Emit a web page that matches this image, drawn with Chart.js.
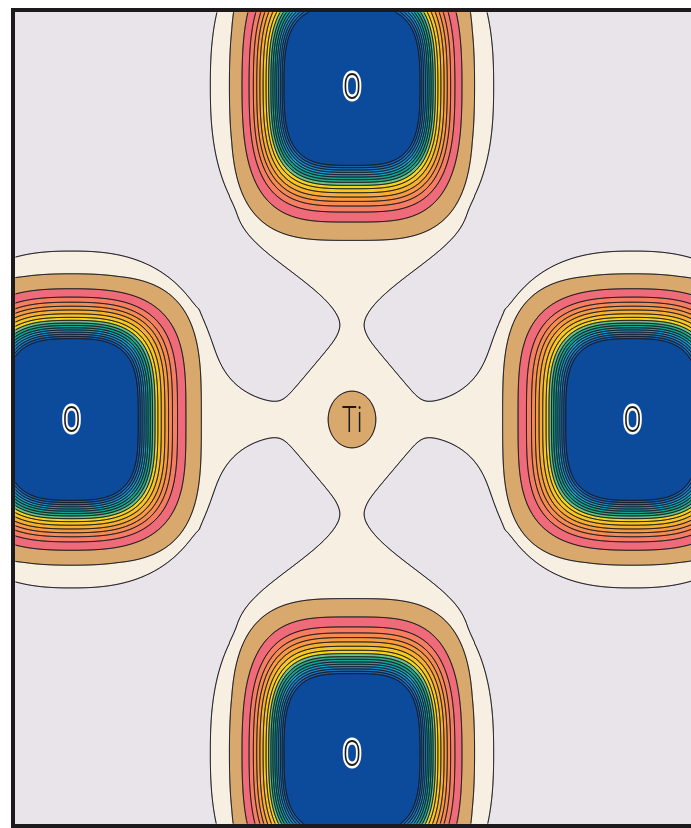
<!DOCTYPE html>
<html>
<head>
<meta charset="utf-8">
<script src="https://cdn.jsdelivr.net/npm/chart.js@4.4.1/dist/chart.umd.min.js"></script>
<style>
  html, body { margin: 0; padding: 0; background: #fff; overflow: hidden; width: 691px; height: 828px; }
  #wrap { position: absolute; left: 0; top: 0; width: 697px; height: 828px; }
  canvas { background: #fff; }
</style>
</head>
<body>
<div id="wrap"><canvas id="map"></canvas></div>
<script>
// Ti–O plane, coordinates in units of the Ti–O bond length (Ti at the origin)
const atomLabels = ['O', 'O', 'O', 'O', 'Ti'];
const atomX = [-1, 1, 0, 0, 0];
const atomY = [0, 0, 1, -1, 0];

// radius of each density contour around an O site, measured along the bond (outer -> inner)
const contourRadii = [0.463, 0.408, 0.378, 0.360, 0.346, 0.333, 0.320, 0.308, 0.298,
                      0.289, 0.281, 0.273, 0.266, 0.259, 0.252, 0.245, 0.238];
// fill colour of the band just inside each contour
const bandColors = ['#d9a86c', '#f06b79', '#f57d62', '#f68b52', '#f79a40', '#f8ae30',
                    '#f8c622', '#f5d51c', '#6cc08c', '#2aa886', '#15a091', '#14a0b0',
                    '#1a9cc9', '#1b88c8', '#1b72bd', '#185fae', '#0c4a9c'];
// lowest (bonding) level and the empty background
const envelopeColor = '#f6efe2';
const backgroundColor = '#e9e4ea';
// radius of the Ti core at the first contour level
const tiCoreRadius = 0.085;

// visible window of the plane
const xRange = [-1.2014, 1.2157];
const yRange = [-1.2129, 1.2219];

// ---- density model -------------------------------------------------------
const LAMBDA = 0.05;      // decay of the O core density
const CORE_P = 3.4;       // squareness of the O core contours
const tiIndex = atomLabels.indexOf('Ti');
const oIndices = atomLabels.map((l, i) => (l === 'O' ? i : -1)).filter(i => i >= 0);
const levelLog = contourRadii.map(r => -r / LAMBDA);
const tiSigma = tiCoreRadius / Math.sqrt(Math.log(2));
const tiAmp = 2 * Math.exp(levelLog[0]);

function smoothstep(e0, e1, v) {
  const t = Math.min(1, Math.max(0, (v - e0) / (e1 - e0)));
  return t * t * (3 - 2 * t);
}
// half-width of the bonding lobe reaching from an O towards Ti (a = distance from O along the bond)
const lobeWidth = {
  horizontal: a => 0.035 + 0.28 * Math.exp(-Math.max(0, a - 0.455) / 0.095),
  vertical:   a => 0.038 + 0.36 * (1 - smoothstep(0.38, 0.73, a))
};

function evalFields(x, y) {
  const tx = atomX[tiIndex], ty = atomY[tiIndex];
  let phi = 0, env = 0;
  for (const i of oIndices) {
    const ox = atomX[i], oy = atomY[i];
    let ux = tx - ox, uy = ty - oy;
    const L = Math.hypot(ux, uy);
    ux /= L; uy /= L;
    const dx = x - ox, dy = y - oy;
    const a = (dx * ux + dy * uy) / L;          // along the bond, towards Ti
    const b = Math.abs(dy * ux - dx * uy) / L;  // across the bond
    const aa = Math.abs(a);
    // core: inner contours slightly wide across the bond, outer ones narrower
    const r0 = Math.hypot(aa, b);
    const t = Math.min(1, Math.max(0, (r0 - 0.24) / 0.22));
    const perp = 1.02 - 0.085 * t;
    const d = Math.pow(Math.pow(aa, CORE_P) + Math.pow(b / perp, CORE_P), 1 / CORE_P);
    phi += Math.exp(-d / LAMBDA);
    // bonding envelope: rounded O shell plus a tapering lobe towards Ti
    const ball = Math.pow(Math.pow(aa / 0.53, 2.5) + Math.pow(b / 0.505, 2.5), 0.4);
    env += Math.exp(-(ball - 1) / 0.03);
    if (a >= 0.33 && a <= 1) {
      const h = (Math.abs(ux) > Math.abs(uy) ? lobeWidth.horizontal : lobeWidth.vertical)(a);
      env += Math.exp(-(b - h) / 0.014);
    }
  }
  const rx = x - tx, ry = y - ty;
  phi += tiAmp * Math.exp(-(rx * rx + ry * ry) / (tiSigma * tiSigma));
  env += Math.exp(-((Math.abs(rx) + Math.abs(ry)) - 0.298) / 0.02);
  return [Math.log(phi), Math.log(env)];
}

function hexToRgb(h) {
  const n = parseInt(h.slice(1), 16);
  return [(n >> 16) & 255, (n >> 8) & 255, n & 255];
}
const palette = [backgroundColor, envelopeColor, ...bandColors].map(hexToRgb);

// marching squares: edge pairs per cell case (0 top, 1 right, 2 bottom, 3 left)
const MS = {1: [[3, 2]], 2: [[2, 1]], 3: [[3, 1]], 4: [[0, 1]], 5: [[3, 0], [2, 1]], 6: [[0, 2]],
            7: [[3, 0]], 8: [[3, 0]], 9: [[0, 2]], 10: [[0, 1], [3, 2]], 11: [[0, 1]],
            12: [[3, 1]], 13: [[2, 1]], 14: [[3, 2]]};

function traceLevel(ctx, V, W, H, t, ox, oy) {
  ctx.beginPath();
  for (let j = 0; j < H - 1; j++) {
    const r0 = j * W, r1 = r0 + W;
    for (let i = 0; i < W - 1; i++) {
      const v0 = V[r0 + i], v1 = V[r0 + i + 1], v2 = V[r1 + i + 1], v3 = V[r1 + i];
      const c = (v0 >= t ? 8 : 0) | (v1 >= t ? 4 : 0) | (v2 >= t ? 2 : 0) | (v3 >= t ? 1 : 0);
      if (c === 0 || c === 15) continue;
      for (const s of MS[c]) {
        const p = [];
        for (const e of s) {
          let px, py;
          if (e === 0) { px = i + (t - v0) / (v1 - v0); py = j; }
          else if (e === 1) { px = i + 1; py = j + (t - v1) / (v2 - v1); }
          else if (e === 2) { px = i + (t - v3) / (v2 - v3); py = j + 1; }
          else { px = i; py = j + (t - v0) / (v3 - v0); }
          p.push(px + ox, py + oy);
        }
        ctx.moveTo(p[0], p[1]);
        ctx.lineTo(p[2], p[3]);
      }
    }
  }
  ctx.stroke();
}

const densityMap = {
  id: 'densityMap',
  beforeDatasetsDraw(chart) {
    const { ctx, chartArea: area, scales } = chart;
    const left = Math.round(area.left), top = Math.round(area.top);
    const W = Math.round(area.right) - left, H = Math.round(area.bottom) - top;
    const xs = new Float64Array(W), ys = new Float64Array(H);
    for (let i = 0; i < W; i++) xs[i] = scales.x.getValueForPixel(left + i + 0.5);
    for (let j = 0; j < H; j++) ys[j] = scales.y.getValueForPixel(top + j + 0.5);
    const P = new Float32Array(W * H), E = new Float32Array(W * H);
    for (let j = 0; j < H; j++) {
      for (let i = 0; i < W; i++) {
        const f = evalFields(xs[i], ys[j]);
        P[j * W + i] = f[0];
        E[j * W + i] = f[1];
      }
    }
    // filled bands
    const off = document.createElement('canvas');
    off.width = W; off.height = H;
    const octx = off.getContext('2d');
    const img = octx.createImageData(W, H);
    const px = img.data;
    for (let k = 0; k < W * H; k++) {
      let idx = 0;
      if (E[k] >= 0) {
        idx = 1;
        const v = P[k];
        for (let m = 0; m < levelLog.length; m++) { if (v >= levelLog[m]) idx++; else break; }
      }
      const c = palette[idx];
      px[4 * k] = c[0]; px[4 * k + 1] = c[1]; px[4 * k + 2] = c[2]; px[4 * k + 3] = 255;
    }
    octx.putImageData(img, 0, 0);
    ctx.save();
    ctx.beginPath();
    ctx.rect(area.left, area.top, area.right - area.left, area.bottom - area.top);
    ctx.clip();
    ctx.drawImage(off, left, top);
    // contour lines
    ctx.lineCap = 'round';
    ctx.lineJoin = 'round';
    ctx.strokeStyle = 'rgba(25,25,30,0.85)';
    ctx.lineWidth = 0.9;
    const ox = left + 0.5, oy = top + 0.5;
    traceLevel(ctx, E, W, H, 0, ox, oy);
    for (const t of levelLog) traceLevel(ctx, P, W, H, t, ox, oy);
    ctx.restore();
  },
  afterDatasetsDraw(chart) {
    const { ctx, scales } = chart;
    ctx.save();
    for (let i = 0; i < atomLabels.length; i++) {
      const x = scales.x.getPixelForValue(atomX[i]);
      const y = scales.y.getPixelForValue(atomY[i]);
      const isTi = i === tiIndex;
      const size = 36;
      ctx.save();
      ctx.translate(x, y);
      ctx.scale(isTi ? 0.7 : 0.74, 1);
      ctx.font = `300 ${size}px Roboto, "Liberation Sans", sans-serif`;
      ctx.textAlign = 'center';
      ctx.textBaseline = 'alphabetic';
      const by = size * 0.355;
      if (!isTi) {
        ctx.lineWidth = 5;
        ctx.strokeStyle = '#ffffff';
        ctx.lineJoin = 'round';
        ctx.strokeText(atomLabels[i], 0, by);
      }
      ctx.fillStyle = '#1a1a1a';
      ctx.fillText(atomLabels[i], 0, by);
      ctx.restore();
    }
    ctx.restore();
  },
  afterDraw(chart) {
    const { ctx, chartArea: a } = chart;
    ctx.save();
    ctx.strokeStyle = '#1c1a1c';
    ctx.lineWidth = 4;
    ctx.strokeRect(a.left - 2, a.top - 2, a.right - a.left + 4, a.bottom - a.top + 4);
    ctx.restore();
  }
};

new Chart(document.getElementById('map'), {
  type: 'scatter',
  data: {
    datasets: [{
      label: 'atoms',
      data: atomLabels.map((l, i) => ({ x: atomX[i], y: atomY[i] })),
      pointRadius: 0,
      pointHoverRadius: 0
    }]
  },
  options: {
    responsive: true,
    maintainAspectRatio: false,
    devicePixelRatio: 1,
    animation: false,
    events: [],
    layout: { padding: { left: 15, top: 12, right: 4, bottom: 4 } },
    plugins: { legend: { display: false }, tooltip: { enabled: false } },
    scales: {
      x: { type: 'linear', min: xRange[0], max: xRange[1], display: false },
      y: { type: 'linear', min: yRange[0], max: yRange[1], display: false }
    }
  },
  plugins: [densityMap]
});
</script>
</body>
</html>
